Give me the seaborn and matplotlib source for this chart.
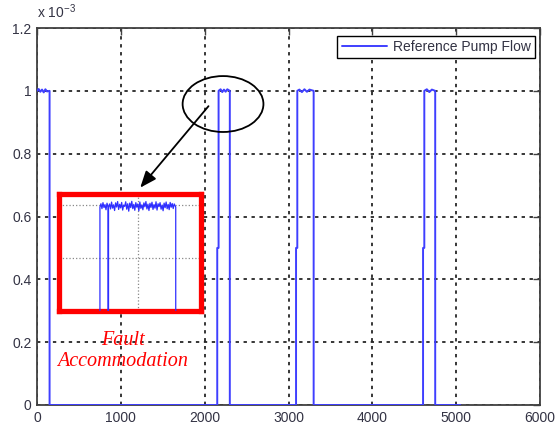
import numpy as np
import pandas as pd
import matplotlib
matplotlib.use("Agg")
import matplotlib.pyplot as plt
from matplotlib.patches import Ellipse
import seaborn as sns

# ---------------- data (values in units of 1e-3) ----------------
flow_t = [0, 20, 40, 60, 80, 100, 120, 150, 150,
          2150, 2150, 2166, 2166, 2190, 2210, 2230, 2250, 2270, 2300, 2300,
          3090, 3090, 3105, 3105, 3130, 3160, 3190, 3220, 3250, 3300, 3300,
          4605, 4605, 4620, 4620, 4650, 4680, 4710, 4750, 4750, 5050]
flow_v = [1.0, 1.006, 0.997, 1.004, 0.995, 1.005, 0.998, 1.0, 0.0,
          0.0, 0.5, 0.5, 1.0, 1.005, 0.996, 1.004, 0.997, 1.005, 1.0, 0.0,
          0.0, 0.5, 0.5, 1.0, 1.004, 0.996, 1.005, 0.997, 1.004, 1.0, 0.0,
          0.0, 0.5, 0.5, 1.0, 1.005, 0.996, 1.004, 1.0, 0.0, 0.0]

inset_t = [2069, 2150, 2150, 2152, 2154, 2156, 2158, 2160, 2162, 2164, 2166, 2166, 2167, 2167,
           2169, 2171, 2173, 2175, 2177, 2179, 2181, 2183, 2185, 2187, 2189, 2191,
           2193, 2195, 2197, 2199, 2201, 2203, 2205, 2207, 2209, 2211, 2213, 2215,
           2217, 2219, 2221, 2223, 2225, 2227, 2229, 2231, 2233, 2235, 2237, 2239,
           2241, 2243, 2245, 2247, 2249, 2251, 2253, 2255, 2257, 2259, 2261, 2263,
           2265, 2267, 2269, 2271, 2273, 2275, 2277, 2279, 2281, 2283, 2285, 2287,
           2289, 2291, 2293, 2295, 2297, 2300, 2300, 2350]
inset_v = [0.0, 0.0, 1.0, 1.030, 0.985, 1.040, 0.995, 1.022, 0.975, 1.035, 1.0, 0.0, 0.0, 1.0,
           1.028, 0.982, 1.045, 0.990, 1.020, 0.968, 1.038, 1.000, 1.050, 0.978, 1.025, 0.992,
           1.042, 0.972, 1.018, 1.005, 1.048, 0.980, 1.030, 0.962, 1.036, 0.995, 1.052, 0.985,
           1.024, 0.970, 1.040, 0.998, 1.028, 0.965, 1.046, 0.988, 1.020, 0.975, 1.038, 1.002,
           1.050, 0.982, 1.026, 0.968, 1.034, 0.996, 1.044, 0.978, 1.022, 0.990, 1.048, 0.972,
           1.030, 1.004, 1.040, 0.980, 1.018, 0.966, 1.036, 0.994, 1.046, 0.984, 1.024, 0.976,
           1.042, 0.998, 1.032, 0.986, 1.028, 1.0, 0.0, 0.0]

x_ticks = [0, 1000, 2000, 3000, 4000, 5000, 6000]
y_ticks = [0, 0.2, 0.4, 0.6, 0.8, 1.0, 1.2]
y_tick_labels = ["0", "0.2", "0.4", "0.6", "0.8", "1", "1.2"]
series_label = "Reference Pump Flow"
note_text = "Fault\nAccommodation"

# ---------------- style ----------------
sns.set_theme(style="white")
plt.rcParams["font.family"] = ["Liberation Sans", "DejaVu Sans"]
plt.rcParams["mathtext.default"] = "regular"

W, H = 556, 428
fig = plt.figure(figsize=(W / 100, H / 100), dpi=100)
fig.patch.set_facecolor("white")

L, R, T, B = 37, 540, 28, 405
ax = fig.add_axes([L / W, (H - B) / H, (R - L) / W, (B - T) / H])

line_color = "#3f3fff"
text_color = "#333344"

df = pd.DataFrame({"t": flow_t, "v": flow_v})
sns.lineplot(data=df, x="t", y="v", ax=ax, sort=False, estimator=None,
             color=line_color, linewidth=1.4, label=series_label, zorder=3)

ax.set_xlim(0, 6000)
ax.set_ylim(0, 1.2)
ax.set_xticks(x_ticks)
ax.set_xticklabels([str(v) for v in x_ticks])
ax.set_yticks(y_ticks)
ax.set_yticklabels(y_tick_labels)
ax.set_xlabel("")
ax.set_ylabel("")

ax.grid(True, color="black", linestyle=(0, (2.2, 3)), linewidth=1.1, zorder=1)
ax.set_axisbelow(True)
for s in ax.spines.values():
    s.set_color("#404040")
    s.set_linewidth(1.3)
ax.tick_params(direction="in", length=5, width=1, color="#404040",
               top=True, right=True, labelsize=10, labelcolor=text_color, pad=4)

ax.text(0, 1.018, "x 10$^{-3}$", transform=ax.transAxes, ha="left", va="bottom",
        fontsize=10, color=text_color)

leg = ax.legend(loc="upper right", bbox_to_anchor=(0.990, 0.979), borderaxespad=0,
                frameon=True, fancybox=False, edgecolor="black", framealpha=1,
                fontsize=10, handlelength=3.3, handletextpad=0.4, borderpad=0.3)
leg.get_frame().set_linewidth(1.0)
for t in leg.get_texts():
    t.set_color(text_color)

# ellipse and arrow
ell = Ellipse((2219, 0.958), width=964, height=0.178, fill=False,
              edgecolor="black", linewidth=1.3, zorder=5)
ax.add_patch(ell)
ax.annotate("", xy=(1210, 0.685), xytext=(2067, 0.958),
            arrowprops=dict(arrowstyle="-|>,head_length=0.5,head_width=0.2",
                            color="black", lw=1.3, mutation_scale=20), zorder=6)

ax.text(1020, 0.172, note_text, ha="center", va="center", fontsize=14.5,
        color="red", family=["Liberation Serif", "DejaVu Serif"], style="italic",
        linespacing=1.2)

# inset
iL, iR, iT, iB = 59, 201, 194, 311
ins = fig.add_axes([iL / W, (H - iB) / H, (iR - iL) / W, (iB - iT) / H])
ins.set_facecolor("white")
dfi = pd.DataFrame({"t": inset_t, "v": inset_v})
sns.lineplot(data=dfi, x="t", y="v", ax=ins, sort=False, estimator=None,
             color="#2f2fff", linewidth=0.9, legend=False, zorder=3)
ins.set_xlim(2069, 2350)
ins.set_ylim(0.05, 1.119)
ins.set_xticks([2226])
ins.set_yticks([0.534, 1.0185])
ins.tick_params(length=0, labelbottom=False, labelleft=False)
ins.set_xlabel("")
ins.set_ylabel("")
ins.grid(True, color="#888888", linestyle=":", linewidth=0.9)
for s in ins.spines.values():
    s.set_color("red")
    s.set_linewidth(3.8)

fig.savefig("out.png", dpi=100, facecolor="white")
